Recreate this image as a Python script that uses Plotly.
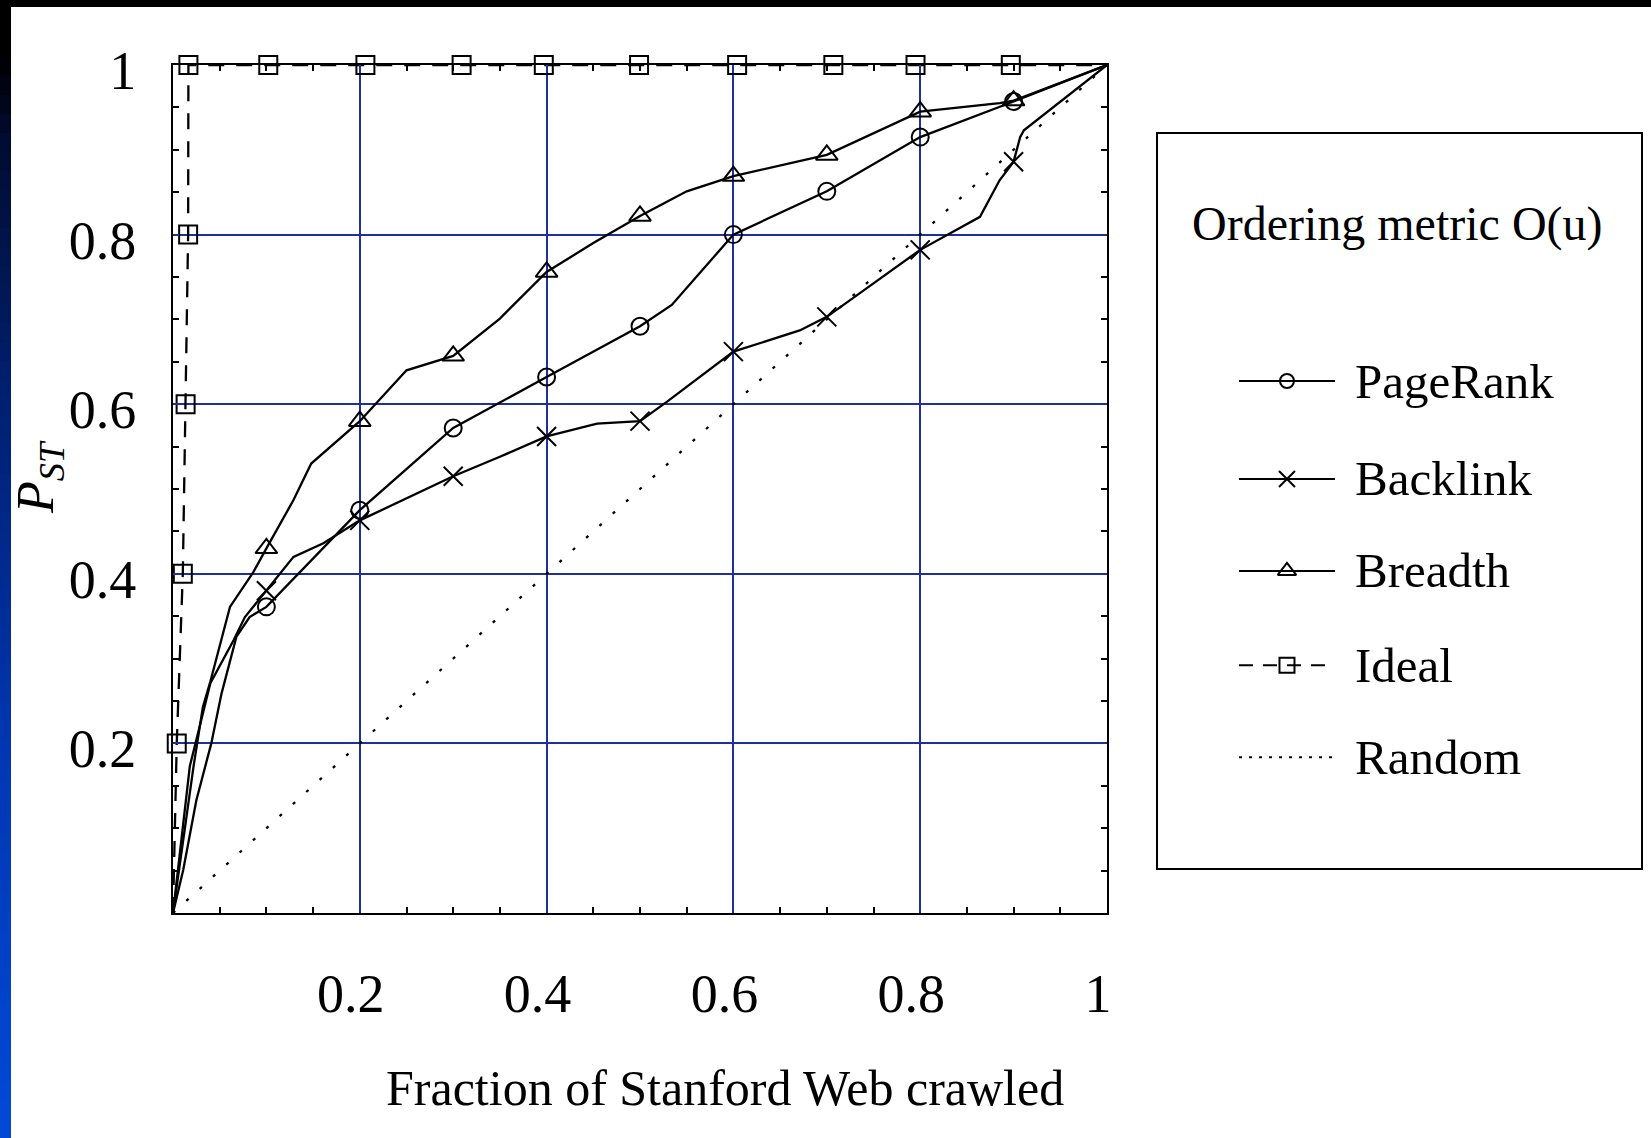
import plotly.graph_objects as go

W, H = 1651, 1138

# ---------------- data ----------------
series_names = ["PageRank", "Backlink", "Breadth", "Ideal", "Random"]

marker_x = [0.1, 0.2, 0.3, 0.4, 0.5, 0.6, 0.7, 0.8, 0.9]

pagerank_x = [0, 0.011, 0.025, 0.041, 0.052, 0.068, 0.082, 0.1, 0.2, 0.3, 0.4, 0.5,
              0.534, 0.6, 0.7, 0.8, 0.9, 1.0]
pagerank_y = [0, 0.051, 0.133, 0.200, 0.259, 0.326, 0.349, 0.361, 0.475, 0.572, 0.632, 0.692,
              0.717, 0.800, 0.851, 0.915, 0.957, 1.0]

backlink_x = [0, 0.018, 0.040, 0.065, 0.077, 0.1, 0.129, 0.161, 0.2, 0.3, 0.35, 0.4, 0.454,
              0.5, 0.529, 0.6, 0.671, 0.7, 0.8, 0.864, 0.885, 0.9, 0.907, 0.911, 1.0]
backlink_y = [0, 0.173, 0.271, 0.322, 0.349, 0.380, 0.420, 0.436, 0.463, 0.515, 0.538, 0.562,
              0.577, 0.580, 0.603, 0.662, 0.687, 0.703, 0.782, 0.821, 0.864, 0.886, 0.915,
              0.923, 1.0]

breadth_x = [0, 0.022, 0.032, 0.040, 0.061, 0.086, 0.1, 0.129, 0.148, 0.2, 0.25, 0.3, 0.35,
             0.4, 0.45, 0.5, 0.55, 0.6, 0.7, 0.8, 0.885, 0.9, 1.0]
breadth_y = [0, 0.173, 0.243, 0.273, 0.361, 0.402, 0.430, 0.487, 0.530, 0.580, 0.640, 0.657,
             0.701, 0.756, 0.790, 0.822, 0.851, 0.869, 0.894, 0.945, 0.955, 0.958, 1.0]

ideal_x = [0, 0.004, 0.0105, 0.0135, 0.0162, 0.0165, 0.102, 0.206, 0.309, 0.397, 0.499,
           0.604, 0.707, 0.795, 0.897, 1.0]
ideal_y = [0, 0.2, 0.4, 0.6, 0.8, 1.0, 1.0, 1.0, 1.0, 1.0, 1.0, 1.0, 1.0, 1.0, 1.0, 1.0]

random_x = [0, 1.0]
random_y = [0, 1.0]

tick_vals = [0.2, 0.4, 0.6, 0.8, 1.0]
tick_text = ["0.2", "0.4", "0.6", "0.8", "1"]

x_title = "Fraction of Stanford Web crawled"
y_title = "<i>P</i><sub><i>ST</i></sub>"
legend_title = "Ordering metric O(u)"

# ---------------- styling ----------------
FONT = "Liberation Serif, Times New Roman, serif"
GRID = "#1f2f9c"
BLACK = "#000000"
LW = 2.3

styles = {
    "PageRank": dict(symbol="circle-open", size=17, lsize=14, dash="solid", ldash="solid"),
    "Backlink": dict(symbol="x-thin-open", size=19, lsize=16, dash="solid", ldash="solid"),
    "Breadth": dict(symbol="triangle-up-open", size=19, lsize=16, dash="solid", ldash="solid"),
    "Ideal": dict(symbol="square-open", size=18, lsize=15, dash="16px,12px", ldash="14px,10px"),
    "Random": dict(symbol=None, size=0, lsize=0, dash="3px,15px", ldash="3px,7px"),
}

curves = {
    "PageRank": (pagerank_x, pagerank_y),
    "Backlink": (backlink_x, backlink_y),
    "Breadth": (breadth_x, breadth_y),
    "Ideal": (ideal_x, ideal_y),
    "Random": (random_x, random_y),
}

fig = go.Figure()

for name in series_names:
    xs, ys = curves[name]
    st = styles[name]
    fig.add_trace(go.Scatter(
        x=xs, y=ys, mode="lines", name=name, showlegend=False,
        line=dict(color=BLACK, width=LW, dash=st["dash"]),
        xaxis="x", yaxis="y", hoverinfo="skip"))
    if st["symbol"] is None:
        continue
    if name == "Ideal":
        mx, my = xs[1:-1], ys[1:-1]
    else:
        lookup = dict(zip(xs, ys))
        mx = [v for v in marker_x if v in lookup]
        my = [lookup[v] for v in mx]
    fig.add_trace(go.Scatter(
        x=mx, y=my, mode="markers", name=name, showlegend=False, cliponaxis=False,
        marker=dict(symbol=st["symbol"], size=st["size"], color=BLACK,
                    line=dict(color=BLACK, width=2)),
        xaxis="x", yaxis="y", hoverinfo="skip"))

# ---------------- custom legend drawn on its own axes ----------------
leg_rows = [0.663, 0.530, 0.405, 0.277, 0.152]
for name, yrow in zip(series_names, leg_rows):
    st = styles[name]
    x_end = 0.350 if name == "Ideal" else 0.367
    fig.add_trace(go.Scatter(
        x=[0.169, x_end], y=[yrow, yrow], mode="lines", showlegend=False,
        line=dict(color=BLACK, width=2, dash=st["ldash"]),
        xaxis="x2", yaxis="y2", hoverinfo="skip"))
    if st["symbol"] is not None:
        fig.add_trace(go.Scatter(
            x=[0.268], y=[yrow], mode="markers", showlegend=False,
            marker=dict(symbol=st["symbol"], size=st["lsize"], color=BLACK,
                        line=dict(color=BLACK, width=2)),
            xaxis="x2", yaxis="y2", hoverinfo="skip"))

annotations = []
for name, yrow in zip(series_names, leg_rows):
    annotations.append(dict(
        x=0.405, y=yrow, xref="x2", yref="y2", text=name, showarrow=False,
        xanchor="left", yanchor="middle", font=dict(family=FONT, size=49, color=BLACK)))
annotations.append(dict(
    x=0.495, y=0.876, xref="x2", yref="y2", text=legend_title, showarrow=False,
    xanchor="center", yanchor="middle", font=dict(family=FONT, size=48, color=BLACK)))
annotations.append(dict(
    x=725 / W, y=1 - 1088 / H, xref="paper", yref="paper", text=x_title, showarrow=False,
    xanchor="center", yanchor="middle", font=dict(family=FONT, size=50, color=BLACK)))
annotations.append(dict(
    x=40 / W, y=1 - 477 / H, xref="paper", yref="paper", text=y_title, showarrow=False,
    textangle=-90, xanchor="center", yanchor="middle",
    font=dict(family=FONT, size=52, color=BLACK)))

# ---------------- slide background decoration ----------------
shapes = []
# left strip gradient (black at top -> bright blue at bottom)
stops = [(0.0, (0, 0, 0)), (0.05, (0, 0, 0)), (0.12, (0, 12, 48)), (0.35, (0, 32, 112)),
         (0.65, (0, 54, 176)), (1.0, (0, 73, 216))]
nb = 60
for i in range(nb):
    t = (i + 0.5) / nb
    for (a, ca), (b, cb) in zip(stops[:-1], stops[1:]):
        if a <= t <= b:
            f = (t - a) / (b - a)
            c = tuple(int(round(ca[k] + (cb[k] - ca[k]) * f)) for k in range(3))
            break
    shapes.append(dict(type="rect", xref="paper", yref="paper", layer="below",
                       x0=0, x1=11 / W, y0=max(0, 1 - (i + 1) / nb - 2 / H), y1=1 - i / nb,
                       fillcolor="rgb(%d,%d,%d)" % c, line=dict(width=0)))
shapes.append(dict(type="rect", xref="paper", yref="paper", layer="below",
                   x0=0, x1=1, y0=1 - 7 / H, y1=1, fillcolor="black", line=dict(width=0)))
# legend frame
shapes.append(dict(type="rect", xref="x2 domain", yref="y2 domain", x0=0, x1=1, y0=0, y1=1,
                   line=dict(color=BLACK, width=2), fillcolor="rgba(0,0,0,0)"))

axis_common = dict(
    range=[0, 1], tickmode="array", tickvals=tick_vals, ticktext=tick_text,
    ticks="inside", ticklen=6, tickwidth=2, tickcolor=GRID,
    showgrid=True, gridcolor=GRID, gridwidth=2,
    showline=True, linecolor=BLACK, linewidth=2, mirror="ticks",
    zeroline=False, fixedrange=True, automargin=False,
    tickfont=dict(family=FONT, size=54, color=BLACK),
    minor=dict(tickmode="linear", tick0=0, dtick=0.05, ticks="inside", ticklen=6,
               tickwidth=1.5, tickcolor=BLACK, showgrid=False),
)

hidden_axis = dict(range=[0, 1], fixedrange=True, showgrid=False, zeroline=False,
                   showline=False, showticklabels=False, ticks="")

fig.update_layout(
    width=W, height=H,
    margin=dict(l=0, r=0, t=0, b=0),
    paper_bgcolor="white", plot_bgcolor="white",
    showlegend=False,
    font=dict(family=FONT, color=BLACK),
    xaxis=dict(domain=[173 / W, 1107 / W], anchor="y",
               ticklabelstandoff=32, ticklabelshift=-9, **axis_common),
    yaxis=dict(domain=[1 - 913 / H, 1 - 65 / H], anchor="x",
               ticklabelstandoff=24, ticklabelshift=5, **axis_common),
    xaxis2=dict(domain=[1157 / W, 1642 / W], anchor="y2", **hidden_axis),
    yaxis2=dict(domain=[1 - 869 / H, 1 - 133 / H], anchor="x2", **hidden_axis),
    shapes=shapes,
    annotations=annotations,
)

fig.write_html("out.html", config={"displayModeBar": False},
               post_script="document.body.style.margin='0px';")
